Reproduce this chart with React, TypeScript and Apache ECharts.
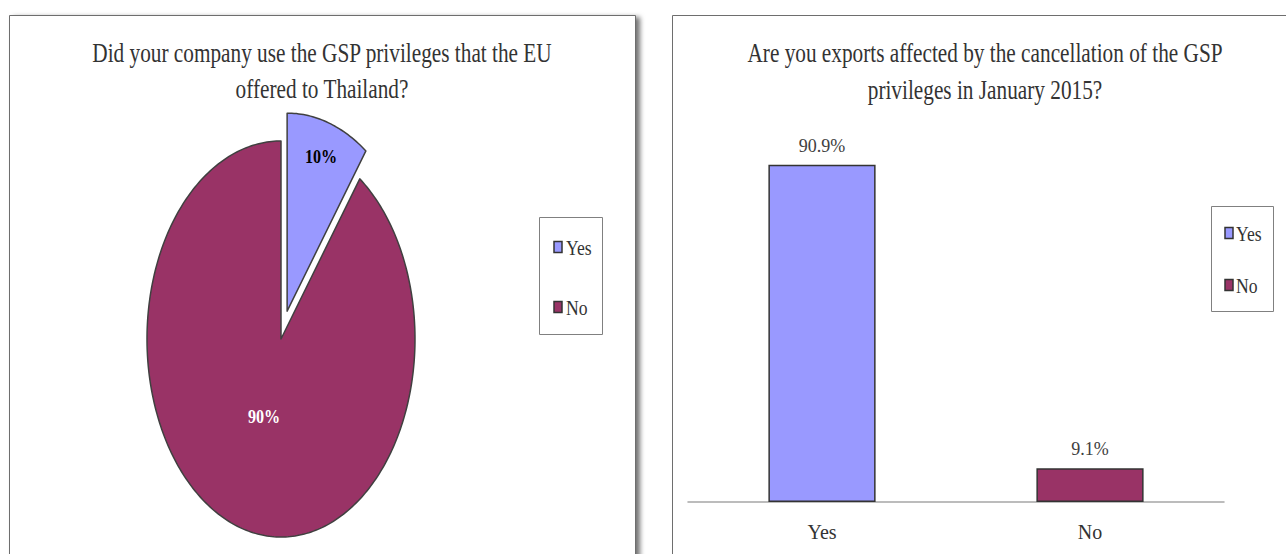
import React, { useEffect, useRef } from "react";
import * as echarts from "echarts";

// ---- data ----
const pieTitle = ["Did your company use the GSP privileges that the EU", "offered to Thailand?"];
const barTitle = ["Are you exports affected by the cancellation of the GSP", "privileges in January 2015?"];
const categories = ["Yes", "No"];
const pieValues = [10, 90];
const barValues = [90.9, 9.1];
const colors = ["#9999FF", "#993366"];

const FONT = '"Liberation Serif", "DejaVu Serif", serif';
const TEXT = "#333333";
const TITLE_SQUEEZE = 0.76;
const LEGEND_SQUEEZE = 0.8;

// pie geometry (the picture is squeezed horizontally, so the pie is an ellipse)
const CX = 281, CY = 339, RX = 134, RY = 198;
const EXPLODE = [0.148, 0];
const LABEL_R = [0.82, 0.41];
const LABEL_COLORS = ["#000000", "#ffffff"];

function titleTexts(lines: string[], cx: number, ys: number[]) {
  return lines.map((t, i) => ({
    type: "text",
    x: cx,
    y: ys[i],
    scaleX: TITLE_SQUEEZE,
    z: 10,
    style: { text: t, font: `28px ${FONT}`, fill: TEXT, align: "center", verticalAlign: "middle" },
  }));
}

function legend(box: { x: number; y: number; w: number; h: number }, sqX: number, txX: number, ys: number[]) {
  const els: any[] = [
    {
      type: "rect",
      z: 5,
      shape: { x: box.x + 0.5, y: box.y + 0.5, width: box.w, height: box.h },
      style: { fill: "#ffffff", stroke: "#808080", lineWidth: 1 },
    },
  ];
  categories.forEach((c, i) => {
    els.push({
      type: "rect",
      z: 6,
      shape: { x: sqX, y: ys[i] - 5.5, width: 8, height: 11 },
      style: { fill: colors[i], stroke: "#333333", lineWidth: 1.5 },
    });
    els.push({
      type: "text",
      x: txX,
      y: ys[i],
      scaleX: LEGEND_SQUEEZE,
      z: 6,
      style: { text: c, font: `22px ${FONT}`, fill: TEXT, align: "left", verticalAlign: "middle" },
    });
  });
  return els;
}

export default function App() {
  const ref = useRef<HTMLDivElement>(null);
  useEffect(() => {
    const chart = echarts.init(ref.current!, undefined, { renderer: "svg" });
    const total = pieValues.reduce((a, b) => a + b, 0);
    const option: any = {
      animation: false,
      backgroundColor: "#ffffff",
      graphic: [
        {
          type: "rect",
          z: -2,
          shape: { x: 9.5, y: 15.5, width: 626, height: 600 },
          style: {
            fill: "#ffffff",
            stroke: "#6e6e6e",
            lineWidth: 1,
            shadowBlur: 5,
            shadowOffsetX: 4,
            shadowOffsetY: 2,
            shadowColor: "rgba(0,0,0,0.55)",
          },
        },
        {
          type: "rect",
          z: -2,
          shape: { x: 672.5, y: 15.5, width: 700, height: 600 },
          style: { fill: "#ffffff", stroke: "#6e6e6e", lineWidth: 1 },
        },
        ...titleTexts(pieTitle, 322, [52, 88]),
        ...titleTexts(barTitle, 985, [52, 89]),
        ...legend({ x: 539, y: 217, w: 63, h: 117 }, 554, 566, [247, 307]),
        ...legend({ x: 1211, y: 206, w: 62, h: 105 }, 1225, 1236, [233, 285]),
      ],
      grid: { left: 688, right: 62, top: 131, bottom: 52, containLabel: false },
      xAxis: {
        type: "category",
        data: categories,
        axisLine: { lineStyle: { color: "#A6A6A6", width: 1.5 } },
        axisTick: { show: false },
        axisLabel: { fontSize: 20, color: TEXT, fontFamily: FONT, margin: 20 },
      },
      yAxis: {
        type: "value",
        min: 0,
        max: 100,
        show: false,
        splitLine: { show: false },
      },
      series: [
        {
          type: "bar",
          data: barValues.map((v, i) => ({ value: v, itemStyle: { color: colors[i] } })),
          barWidth: "40%",
          itemStyle: { borderColor: "#333333", borderWidth: 1.5 },
          label: {
            show: true,
            position: "top",
            distance: 10,
            formatter: "{c}%",
            fontSize: 18,
            fontFamily: FONT,
            color: "#404040",
          },
        },
        {
          type: "custom",
          coordinateSystem: "none",
          data: pieValues.map((v, i) => ({ name: categories[i], value: v })),
          renderItem: (params: any, api: any) => {
            const i = params.dataIndex;
            let start = 0;
            for (let k = 0; k < i; k++) start += pieValues[k];
            const v = api.value(0);
            const a0 = (start / total) * 2 * Math.PI;
            const a1 = ((start + v) / total) * 2 * Math.PI;
            const mid = (a0 + a1) / 2;
            const ox = CX + EXPLODE[i] * RX * Math.sin(mid);
            const oy = CY - EXPLODE[i] * RY * Math.cos(mid);
            const pts: number[][] = [[ox, oy]];
            const n = Math.max(2, Math.ceil((a1 - a0) / (Math.PI / 180)));
            for (let s = 0; s <= n; s++) {
              const a = a0 + ((a1 - a0) * s) / n;
              pts.push([ox + RX * Math.sin(a), oy - RY * Math.cos(a)]);
            }
            return {
              type: "group",
              children: [
                {
                  type: "polygon",
                  shape: { points: pts },
                  style: { fill: colors[i], stroke: "#404040", lineWidth: 1.5, lineJoin: "round" },
                },
                {
                  type: "text",
                  x: ox + LABEL_R[i] * RX * Math.sin(mid),
                  y: oy - LABEL_R[i] * RY * Math.cos(mid),
                  scaleX: 0.85,
                  z2: 10,
                  style: {
                    text: `${Math.round((v / total) * 100)}%`,
                    font: `bold 19px ${FONT}`,
                    fill: LABEL_COLORS[i],
                    align: "center",
                    verticalAlign: "middle",
                  },
                },
              ],
            };
          },
        },
      ],
    };
    chart.setOption(option);
    return () => chart.dispose();
  }, []);
  return (
    <div
      ref={ref}
      style={{ position: "absolute", left: 0, top: 0, width: 1286, height: 554 }}
    />
  );
}
